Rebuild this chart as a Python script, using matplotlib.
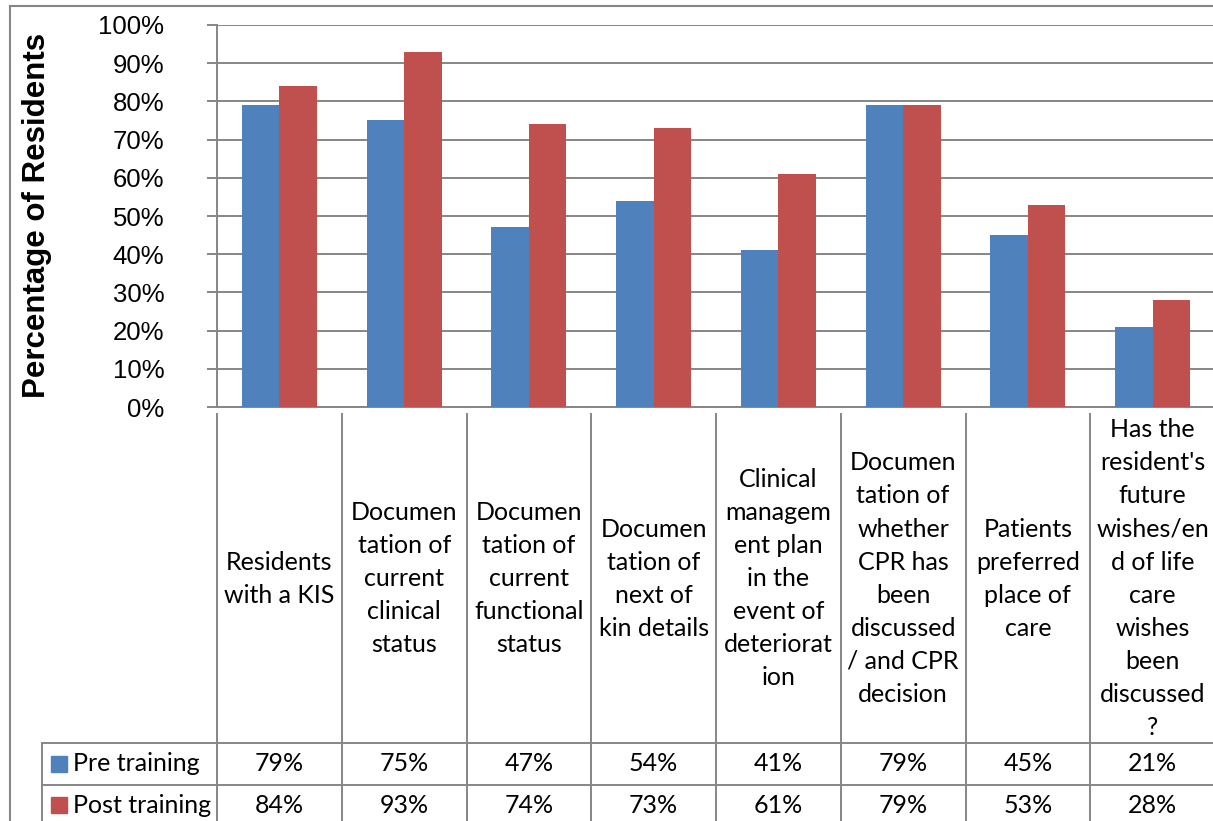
import matplotlib
matplotlib.use("Agg")
import matplotlib.pyplot as plt
from matplotlib.lines import Line2D
from matplotlib.patches import Rectangle

# Data
categories = [
    "Residents\nwith a KIS",
    "Documen\ntation of\ncurrent\nclinical\nstatus",
    "Documen\ntation of\ncurrent\nfunctional\nstatus",
    "Documen\ntation of\nnext of\nkin details",
    "Clinical\nmanagem\nent plan\nin the\nevent of\ndeteriorat\nion",
    "Documen\ntation of\nwhether\nCPR has\nbeen\ndiscussed\n/ and CPR\ndecision",
    "Patients\npreferred\nplace of\ncare",
    "Has the\nresident's\nfuture\nwishes/en\nd of life\ncare\nwishes\nbeen\ndiscussed\n?",
]
pre_training = [79, 75, 47, 54, 41, 79, 45, 21]
post_training = [84, 93, 74, 73, 61, 79, 53, 28]
series_names = ["Pre training", "Post training"]
y_ticks = [0, 10, 20, 30, 40, 50, 60, 70, 80, 90, 100]

blue = "#4F81BD"
red = "#C0504D"
gray = "#868686"

plt.rcParams["font.family"] = ["Liberation Sans", "DejaVu Sans"]

W, H = 1213, 821
fig = plt.figure(figsize=(W / 100, H / 100), dpi=100)

# ---- bar chart ----
ax = fig.add_axes([217 / W, (H - 407) / H, 998 / W, 382 / H])
n = len(categories)
xs = [i + 0.5 for i in range(n)]
ax.bar([x - 0.15 for x in xs], pre_training, width=0.3, color=blue, zorder=3)
ax.bar([x + 0.15 for x in xs], post_training, width=0.3, color=red, zorder=3)
ax.set_xlim(0, n)
ax.set_ylim(0, 100)
ax.set_yticks(y_ticks)
ax.set_yticklabels([f"{t}%" for t in y_ticks], fontsize=18.5)
ax.set_xticks([])
ax.grid(axis="y", color=gray, lw=1.4, zorder=0)
ax.tick_params(axis="y", length=7, width=1.4, color=gray, pad=31)
for s in ["top", "right"]:
    ax.spines[s].set_visible(False)
for s in ["left", "bottom"]:
    ax.spines[s].set_color(gray)
    ax.spines[s].set_linewidth(1.4)

fig.text(37 / W, 1 - 215 / H, "Percentage of Residents", rotation=90,
         ha="center", va="center", fontsize=22.5, fontweight="bold")

# ---- data table under the chart ----
tax = fig.add_axes([217 / W, 0, 998 / W, 407 / H])
tax.set_xlim(0, n)
tax.set_ylim(H, 407)
tax.axis("off")
tfont = dict(family=["Lato", "DejaVu Sans"], fontsize=18)
cell_left = (42 - 217) / 124.75

for i in range(n + 1):
    tax.plot([i, i], [407, H + 10], color=gray, lw=1.4, clip_on=False)
for yy in [742, 784, 826]:
    tax.plot([cell_left, n], [yy, yy], color=gray, lw=1.4, clip_on=False)
tax.plot([cell_left, cell_left], [742, H + 10], color=gray, lw=1.4, clip_on=False)

for x, lab in zip(xs, categories):
    tax.text(x, 574.5, lab, ha="center", va="center", multialignment="center",
             linespacing=1.53, **tfont)

rows = [(pre_training, blue, 763), (post_training, red, 805)]
for (vals, col, yy), name in zip(rows, series_names):
    tax.add_patch(Rectangle(((51 - 217) / 124.75, yy - 8), 16 / 124.75, 16,
                            color=col, clip_on=False))
    tax.text((73 - 217) / 124.75, yy, name, ha="left", va="center", **tfont)
    for x, v in zip(xs, vals):
        tax.text(x, yy, f"{v}%", ha="center", va="center", **tfont)

# outer chart frame
fig.add_artist(Line2D([10 / W, 10 / W], [0, 1 - 6 / H], color=gray, lw=1.5))
fig.add_artist(Line2D([10 / W, 1], [1 - 6 / H, 1 - 6 / H], color=gray, lw=1.5))

fig.savefig("out.png", dpi=100)
